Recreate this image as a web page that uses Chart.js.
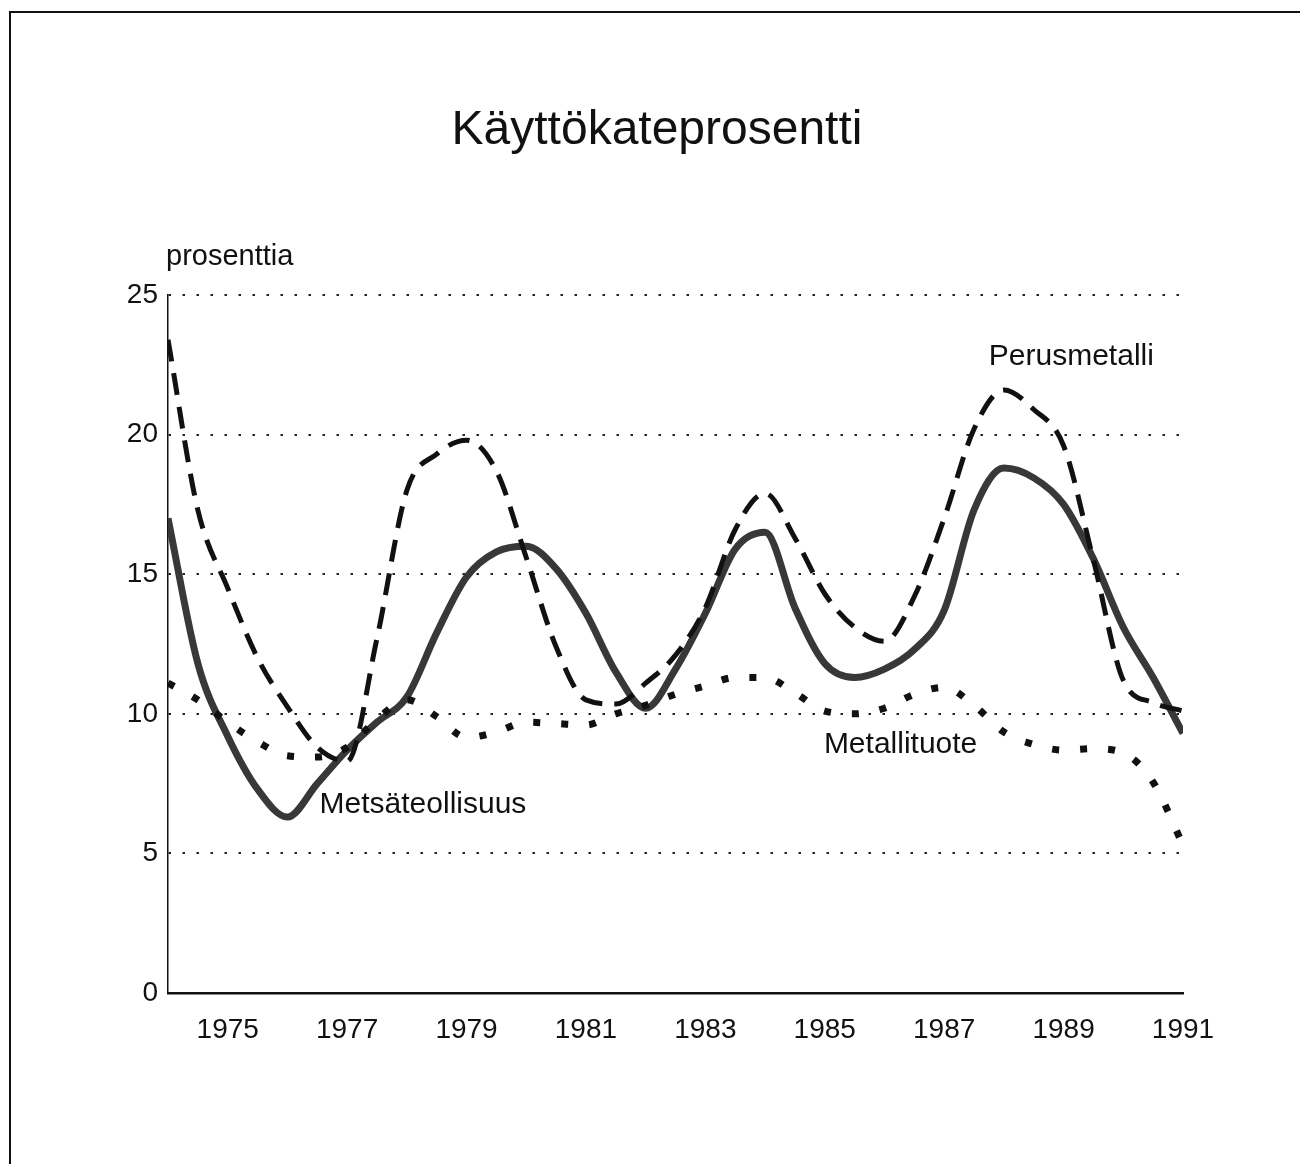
<!DOCTYPE html>
<html>
<head>
<meta charset="utf-8">
<script src="https://cdn.jsdelivr.net/npm/chart.js@4.4.1/dist/chart.umd.min.js"></script>
<style>
  html, body { margin: 0; padding: 0; background: #fff; }
  canvas { display: block; }
</style>
</head>
<body>
<canvas id="myChart" width="1300" height="1164"></canvas>
<script>
// values, half-year steps from 1974 to 1991
var years = [1974, 1974.5, 1975, 1975.5, 1976, 1976.5, 1977, 1977.5, 1978, 1978.5,
             1979, 1979.5, 1980, 1980.5, 1981, 1981.5, 1982, 1982.5, 1983, 1983.5,
             1984, 1984.5, 1985, 1985.5, 1986, 1986.5, 1987, 1987.5, 1988, 1988.5,
             1989, 1989.5, 1990, 1990.5, 1991];

// Metsäteollisuus (solid)
var metsa = [17.0, 11.8, 9.2, 7.3, 6.3, 7.5, 8.7, 9.7, 10.6, 12.9,
             14.9, 15.8, 16.0, 15.2, 13.6, 11.5, 10.2, 11.6, 13.6, 15.9,
             16.5, 13.8, 11.8, 11.3, 11.6, 12.3, 13.7, 17.3, 18.8, 18.45,
             17.5, 15.55, 13.1, 11.3, 9.3];

// Perusmetalli (dashed)
var perus = [23.4, 17.3, 14.5, 12.0, 10.25, 8.8, 8.3, 12.7, 18.0, 19.3,
             19.8, 18.7, 15.6, 12.4, 10.5, 10.35, 11.1, 12.1, 13.8, 16.6,
             17.9, 16.3, 14.3, 13.1, 12.6, 14.2, 17.0, 20.2, 21.6, 20.9,
             19.6, 15.5, 11.2, 10.4, 10.1];

// Metallituote (dotted)
var metalli = [11.1, 10.5, 9.7, 9.0, 8.5, 8.45, 8.8, 9.8, 10.5, 9.9,
               9.15, 9.35, 9.7, 9.65, 9.6, 10.0, 10.3, 10.7, 11.0, 11.3,
               11.3, 10.75, 10.1, 10.0, 10.2, 10.7, 10.95, 10.3, 9.35, 8.9,
               8.7, 8.75, 8.6, 7.55, 5.3];

var xTickLabels = [1975, 1977, 1979, 1981, 1983, 1985, 1987, 1989, 1991];
var yTickLabels = [0, 5, 10, 15, 20, 25];

// series labels placed on the plot: [text, year, value]
var seriesLabels = [
    ["Perusmetalli", 1989.13, 22.8],
    ["Metallituote", 1986.27, 8.9],
    ["Metsäteollisuus", 1978.27, 6.75]
];

var fontFamily = "'Liberation Sans', Arial, Helvetica, sans-serif";

function toPoints(values) {
    return values.map(function(v, i) {
        return { x: years[i], y: v };
    });
}

// frame, title and text labels drawn by hand
var textPlugin = {
    id: 'texts',
    beforeDraw: function(chart) {
        var ctx = chart.ctx;
        ctx.save();
        ctx.fillStyle = '#fff';
        ctx.fillRect(0, 0, chart.width, chart.height);
        ctx.strokeStyle = '#111';
        ctx.lineWidth = 2;
        ctx.strokeRect(10, 12, chart.width + 20, chart.height + 20);
        ctx.restore();
    },
    afterDraw: function(chart) {
        var ctx = chart.ctx;
        var xs = chart.scales.x;
        var ys = chart.scales.y;
        ctx.save();
        ctx.fillStyle = '#111';
        ctx.textBaseline = 'middle';

        ctx.textAlign = 'center';
        ctx.font = '48px ' + fontFamily;
        ctx.fillText('Käyttökateprosentti', 657, 131);

        ctx.textAlign = 'left';
        ctx.font = '29px ' + fontFamily;
        ctx.fillText('prosenttia', chart.chartArea.left - 2, ys.getPixelForValue(26.35));

        ctx.textAlign = 'center';
        ctx.font = '30px ' + fontFamily;
        seriesLabels.forEach(function(l) {
            ctx.fillText(l[0], xs.getPixelForValue(l[1]), ys.getPixelForValue(l[2]));
        });
        ctx.restore();
    }
};

var ctx = document.getElementById('myChart');

var myChart = new Chart(ctx, {
    type: 'line',
    data: {
        datasets: [{
            label: 'Metallituote',
            data: toPoints(metalli),
            borderColor: '#111',
            borderWidth: 7,
            borderDash: [7, 21],
            borderCapStyle: 'butt',
            pointRadius: 0,
            cubicInterpolationMode: 'monotone'
        }, {
            label: 'Perusmetalli',
            data: toPoints(perus),
            borderColor: '#111',
            borderWidth: 5,
            borderDash: [22, 12],
            borderCapStyle: 'butt',
            pointRadius: 0,
            cubicInterpolationMode: 'monotone'
        }, {
            label: 'Metsäteollisuus',
            data: toPoints(metsa),
            borderColor: '#383838',
            borderWidth: 7,
            pointRadius: 0,
            cubicInterpolationMode: 'monotone'
        }]
    },
    options: {
        responsive: false,
        animation: false,
        devicePixelRatio: 1,
        layout: {
            padding: { left: 0, top: 295, right: 117, bottom: 111 }
        },
        plugins: {
            legend: { display: false },
            title: { display: false },
            tooltip: { enabled: false }
        },
        scales: {
            x: {
                type: 'linear',
                min: 1974,
                max: 1991,
                afterBuildTicks: function(scale) {
                    scale.ticks = xTickLabels.map(function(v) { return { value: v }; });
                },
                afterFit: function(scale) { scale.height = 60; },
                grid: { display: false, drawTicks: false },
                border: { display: true, color: '#111', width: 2.5 },
                ticks: {
                    color: '#111',
                    padding: 20,
                    maxRotation: 0,
                    autoSkip: false,
                    font: { family: fontFamily, size: 28 },
                    callback: function(v) { return String(v); }
                }
            },
            y: {
                min: 0,
                max: 25,
                afterBuildTicks: function(scale) {
                    scale.ticks = yTickLabels.map(function(v) { return { value: v }; });
                },
                afterFit: function(scale) { scale.width = 168; },
                grid: {
                    color: function(c) { return c.tick.value === 0 ? 'rgba(0,0,0,0)' : '#222'; },
                    lineWidth: 2,
                    drawTicks: false
                },
                border: { display: true, color: '#111', width: 1.5, dash: [2.5, 11.5] },
                ticks: {
                    color: '#111',
                    padding: 10,
                    font: { family: fontFamily, size: 28 }
                }
            }
        }
    },
    plugins: [textPlugin]
});
</script>
</body>
</html>
